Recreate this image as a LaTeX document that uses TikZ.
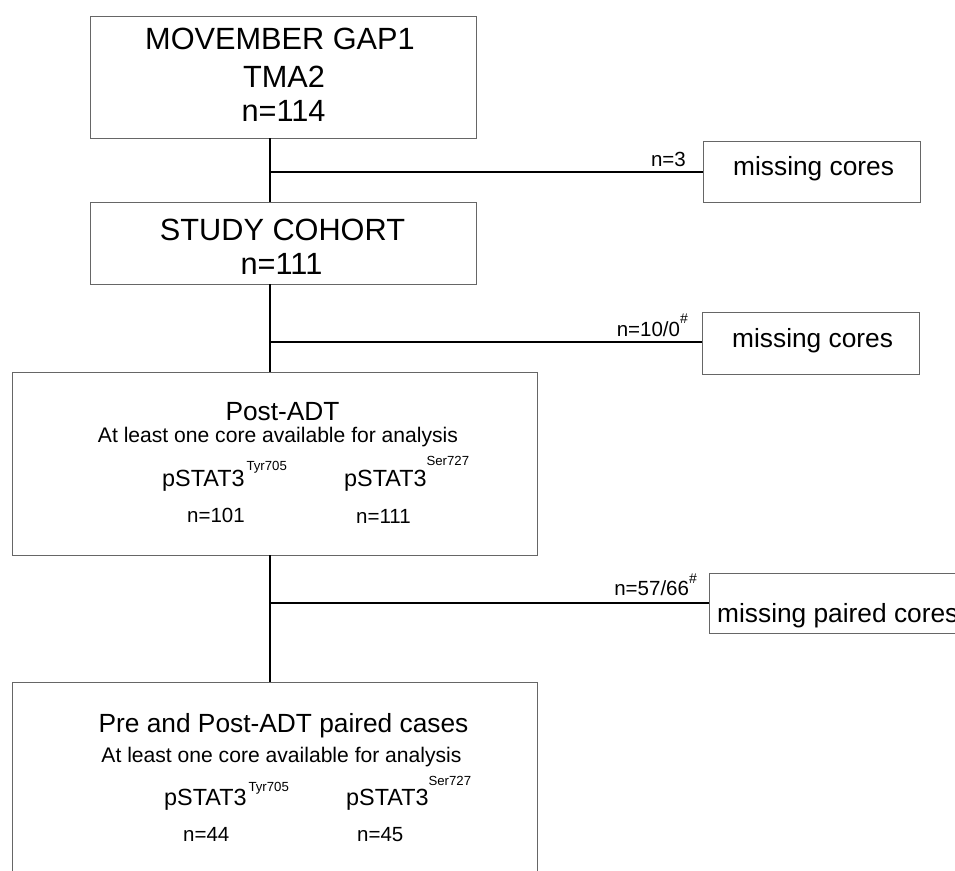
\documentclass[tikz,border=0pt]{standalone}
\usepackage{fontspec}
\setmainfont{Liberation Sans}
\newcommand\szA{\fontsize{30.7}{36}\selectfont}
\newcommand\szB{\fontsize{26.3}{30}\selectfont}
\newcommand\szC{\fontsize{21.1}{25}\selectfont}
\newcommand\szD{\fontsize{23.4}{27}\selectfont}
\newcommand\szE{\fontsize{20.5}{24}\selectfont}
\newcommand\szF{\fontsize{13.2}{15}\selectfont}
\newcommand\szG{\fontsize{14}{16}\selectfont}
\begin{document}
\begin{tikzpicture}[x=1pt,y=-1pt,
  box/.style={draw=black!60,line width=0.9pt,inner sep=0pt},
  conn/.style={draw=black,line width=1.5pt},
  txt/.style={inner sep=0pt,anchor=base},
  ltxt/.style={inner sep=0pt,anchor=base west},
  rtxt/.style={inner sep=0pt,anchor=base east}]
\clip (0,0) rectangle (955,870);
\fill[white] (0,0) rectangle (955,870);

% boxes
\node[box,minimum width=386pt,minimum height=122pt] (b1) at (283,77) {};
\node[box,minimum width=217pt,minimum height=61pt] (m1) at (811.5,171.5) {};
\node[box,minimum width=386pt,minimum height=82pt] (b2) at (283,243) {};
\node[box,minimum width=217pt,minimum height=62pt] (m2) at (810.5,343) {};
\node[box,minimum width=524.5pt,minimum height=183pt] (b3) at (274.75,463.5) {};
\node[box,minimum width=260pt,minimum height=60pt] (m3) at (839,603) {};
\node[box,minimum width=524.5pt,minimum height=203pt] (b4) at (274.75,783.5) {};

% junctions
\coordinate (j1) at (270,172);
\coordinate (j2) at (270,342);
\coordinate (j3) at (270,603);

% connectors
\draw[conn] (b1.south -| j1) -- (b2.north -| j1);
\draw[conn] (j1) -- (m1.west |- j1);
\draw[conn] (b2.south -| j2) -- (b3.north -| j2);
\draw[conn] (j2) -- (m2.west |- j2);
\draw[conn] (b3.south -| j3) -- (b4.north -| j3);
\draw[conn] (j3) -- (m3.west |- j3);

% box 1 text
\node[txt] (t1a) at (280,49) {\szA MOVEMBER GAP1};
\node[txt] (t1b) at (284,87) {\szA TMA2};
\node[txt] (t1c) at (283.5,121) {\szA n=114};
% box 2 text
\node[txt] (t2a) at (282.5,240) {\szA STUDY COHORT};
\node[txt] (t2b) at (281.5,274) {\szA n=111};

% missing boxes text
\node[ltxt] (tm1) at (733,175) {\szB missing cores};
\node[ltxt] (tm2) at (732,347) {\szB missing cores};
\node[ltxt] (tm3) at (717,622) {\szB missing paired cores};

% branch labels
\node[rtxt] (l1) at (686,166) {\szE n=3};
\node[rtxt] (l2) at (688,336) {\szE n=10/0\raisebox{13pt}{\szG\#}};
\node[rtxt] (l3) at (697,595) {\szE n=57/66\raisebox{12pt}{\szG\#}};

% box 3 text
\node[txt] (t3a) at (282.5,420) {\szB Post-ADT};
\node[txt] (t3b) at (278,442) {\szC At least one core available for analysis};
\node[ltxt] (t3c) at (162,486) {\szD pSTAT3\hspace{2pt}\raisebox{16pt}{\szF Tyr705}};
\node[ltxt] (t3d) at (344,486) {\szD pSTAT3\raisebox{21pt}{\szF Ser727}};
\node[ltxt] (t3e) at (187,522) {\szE n=101};
\node[ltxt] (t3f) at (356,523) {\szE n=111};

% box 4 text
\node[txt] (t4a) at (283.5,732) {\szB Pre and Post-ADT paired cases};
\node[txt] (t4b) at (281.5,762) {\szC At least one core available for analysis};
\node[ltxt] (t4c) at (164,805) {\szD pSTAT3\hspace{2pt}\raisebox{14pt}{\szF Tyr705}};
\node[ltxt] (t4d) at (346,805) {\szD pSTAT3\raisebox{20pt}{\szF Ser727}};
\node[ltxt] (t4e) at (183,841) {\szE n=44};
\node[ltxt] (t4f) at (357,841) {\szE n=45};
\end{tikzpicture}
\end{document}
